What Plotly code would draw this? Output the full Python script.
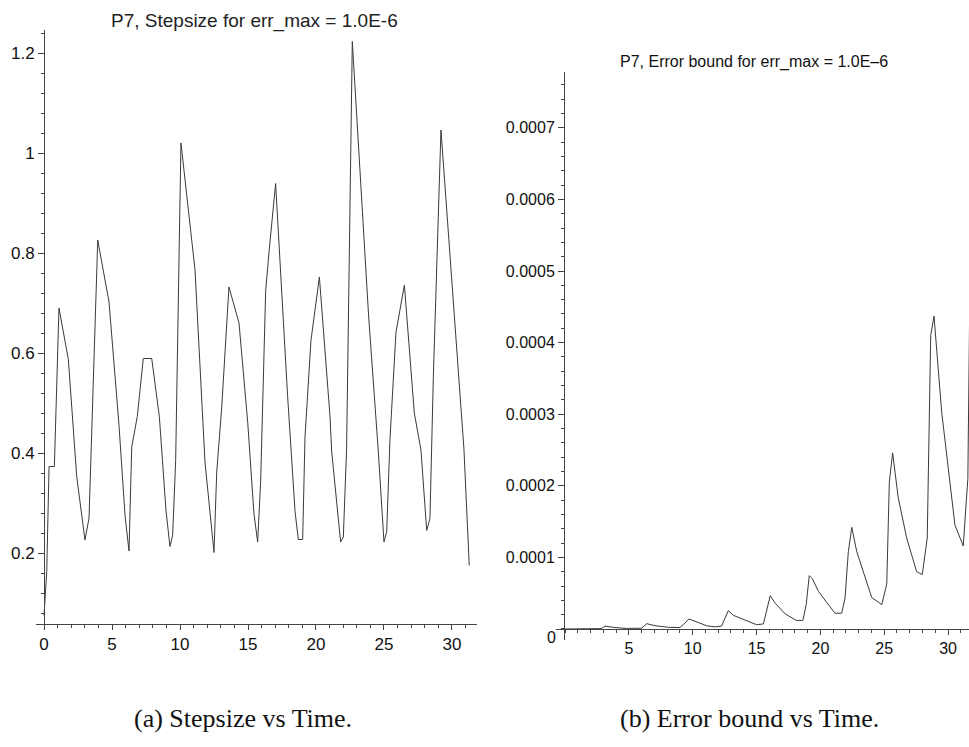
import plotly.graph_objects as go

# ---- data ----
# (a) stepsize vs time
time_a = [0.00, 0.20, 0.37, 0.76, 1.10, 1.79, 2.40, 3.01, 3.31, 3.50, 3.95, 4.78, 5.51, 5.96,
          6.25, 6.45, 6.86, 7.30, 7.92, 8.48, 8.97, 9.26, 9.46, 9.68, 10.07, 11.10, 11.84,
          12.50, 12.70, 13.06, 13.60, 14.34, 14.98, 15.44, 15.71, 15.93, 16.30, 16.57, 17.03,
          17.91, 18.46, 18.70, 19.02, 19.19, 19.63, 20.25, 21.03, 21.15, 21.81, 22.01, 22.25,
          22.67, 23.87, 24.58, 25.00, 25.20, 25.44, 25.88, 26.50, 27.23, 27.72, 28.14, 28.38,
          28.63, 29.19, 30.88, 31.27]
stepsize = [0.075, 0.163, 0.373, 0.373, 0.690, 0.587, 0.354, 0.226, 0.270, 0.446, 0.826, 0.702,
            0.457, 0.274, 0.204, 0.412, 0.473, 0.589, 0.589, 0.473, 0.285, 0.213, 0.236, 0.385,
            1.020, 0.767, 0.381, 0.201, 0.362, 0.488, 0.732, 0.660, 0.461, 0.278, 0.222, 0.343,
            0.725, 0.809, 0.939, 0.515, 0.283, 0.227, 0.227, 0.431, 0.625, 0.752, 0.473, 0.404,
            0.222, 0.232, 0.408, 1.223, 0.674, 0.404, 0.222, 0.243, 0.427, 0.641, 0.736, 0.480,
            0.406, 0.245, 0.269, 0.553, 1.046, 0.408, 0.175]

# (b) error bound vs time
time_b = [0.00, 2.85, 3.13, 3.92, 4.83, 6.00, 6.40, 7.04, 8.09, 9.00, 9.26, 9.70, 11.10, 11.74,
          12.26, 12.79, 13.19, 14.50, 15.00, 15.54, 16.07, 16.46, 17.25, 18.11, 18.63, 18.89,
          19.13, 19.38, 19.85, 20.50, 21.15, 21.67, 21.93, 22.19, 22.46, 22.85, 24.02, 24.81,
          25.20, 25.40, 25.66, 26.10, 26.76, 27.54, 27.98, 28.37, 28.64, 28.90, 29.50, 30.54,
          31.19, 31.55, 31.70]
err_bound = [0.0, 0.5e-6, 4.0e-6, 2.0e-6, 0.8e-6, 1.0e-6, 7.4e-6, 4.6e-6, 2.3e-6, 2.0e-6, 6.0e-6,
             1.4e-5, 4.5e-6, 3.0e-6, 4.0e-6, 2.56e-5, 1.9e-5, 9.0e-6, 6.0e-6, 7.0e-6, 4.65e-5,
             3.6e-5, 2.1e-5, 1.2e-5, 1.2e-5, 3.4e-5, 7.45e-5, 7.0e-5, 5.25e-5, 3.7e-5, 2.2e-5,
             2.2e-5, 4.3e-5, 1.08e-4, 1.42e-4, 1.08e-4, 4.4e-5, 3.4e-5, 6.3e-5, 2.05e-4, 2.46e-4,
             1.83e-4, 1.27e-4, 8.0e-5, 7.6e-5, 1.27e-4, 4.1e-4, 4.37e-4, 3.03e-4, 1.45e-4,
             1.16e-4, 2.1e-4, 4.6e-4]

ytick_a = [0.2, 0.4, 0.6, 0.8, 1.0, 1.2]
ytext_a = ["0.2", "0.4", "0.6", "0.8", "1", "1.2"]
xtick_a = [0, 5, 10, 15, 20, 25, 30]
ytick_b = [0.0001, 0.0002, 0.0003, 0.0004, 0.0005, 0.0006, 0.0007]
ytext_b = ["0.0001", "0.0002", "0.0003", "0.0004", "0.0005", "0.0006", "0.0007"]
xtick_b = [5, 10, 15, 20, 25, 30]

title_a = "P7, Stepsize for err_max = 1.0E-6"
title_b = "P7, Error bound for err_max = 1.0E\u20136"
caption_a = "(a) Stepsize vs Time."
caption_b = "(b) Error bound vs Time."

W, H = 969, 747
LINE = "#3a3a3a"
FONT = "Liberation Sans, Arial, sans-serif"

fig = go.Figure()
fig.add_trace(go.Scatter(x=time_a, y=stepsize, mode="lines",
                         line=dict(color=LINE, width=1), xaxis="x", yaxis="y",
                         showlegend=False, hoverinfo="skip"))
fig.add_trace(go.Scatter(x=time_b, y=err_bound, mode="lines",
                         line=dict(color=LINE, width=1), xaxis="x2", yaxis="y2",
                         showlegend=False, hoverinfo="skip", cliponaxis=True))

def fx(px):
    return px / W

def fy(py):
    return (H - py) / H

axcommon = dict(showgrid=False, zeroline=False, showline=True, linecolor="#444",
                linewidth=1, ticks="outside", tickcolor="#444", tickwidth=1,
                fixedrange=True)

fig.update_layout(
    width=W, height=H,
    margin=dict(l=0, r=0, t=0, b=0),
    paper_bgcolor="white", plot_bgcolor="white",
    font=dict(family=FONT, color="#111"),
    xaxis=dict(domain=[fx(36), fx(477)], range=[-0.59, 31.84], anchor="y",
               tickvals=xtick_a, ticklen=5, tickfont=dict(size=17),
               minor=dict(dtick=1, tick0=0, ticks="outside", ticklen=3,
                          tickcolor="#444", showgrid=False),
               **axcommon),
    yaxis=dict(domain=[fy(624), fy(30)], range=[0.058, 1.246], anchor="free",
               position=fx(44), tickvals=ytick_a, ticktext=ytext_a, ticklen=6,
               tickfont=dict(size=17),
               minor=dict(dtick=0.04, tick0=0, ticks="outside", ticklen=3,
                          tickcolor="#444", showgrid=False),
               **axcommon),
    xaxis2=dict(domain=[fx(556), 1.0], range=[-0.705, 31.64], anchor="free",
                position=fy(629), tickvals=xtick_b, ticklen=5, tickfont=dict(size=16),
                minor=dict(dtick=1, tick0=0, ticks="outside", ticklen=3,
                           tickcolor="#444", showgrid=False),
                **axcommon),
    yaxis2=dict(domain=[fy(640), fy(72)], range=[-1.54e-5, 7.78e-4], anchor="free",
                position=fx(564), tickvals=ytick_b, ticktext=ytext_b, ticklen=6,
                tickfont=dict(size=16),
                minor=dict(dtick=0.00002, tick0=0, ticks="outside", ticklen=3,
                           tickcolor="#444", showgrid=False),
                **axcommon),
)

annots = [
    dict(text=title_a, x=fx(254), y=fy(21), font=dict(size=19, family=FONT, color="#222")),
    dict(text=title_b, x=fx(754), y=fy(62), font=dict(size=16, family=FONT, color="#111")),
    dict(text=caption_a, x=fx(243), y=fy(718),
         font=dict(size=26, family="Liberation Serif, Times New Roman, serif", color="#111")),
    dict(text=caption_b, x=fx(749), y=fy(718),
         font=dict(size=26, family="Liberation Serif, Times New Roman, serif", color="#111")),
    dict(text="0", x=fx(551), y=fy(637), font=dict(size=16, family=FONT, color="#111")),
]
for a in annots:
    fig.add_annotation(xref="paper", yref="paper", showarrow=False,
                       xanchor="center", yanchor="middle", **a)

fig.write_html("out.html")
